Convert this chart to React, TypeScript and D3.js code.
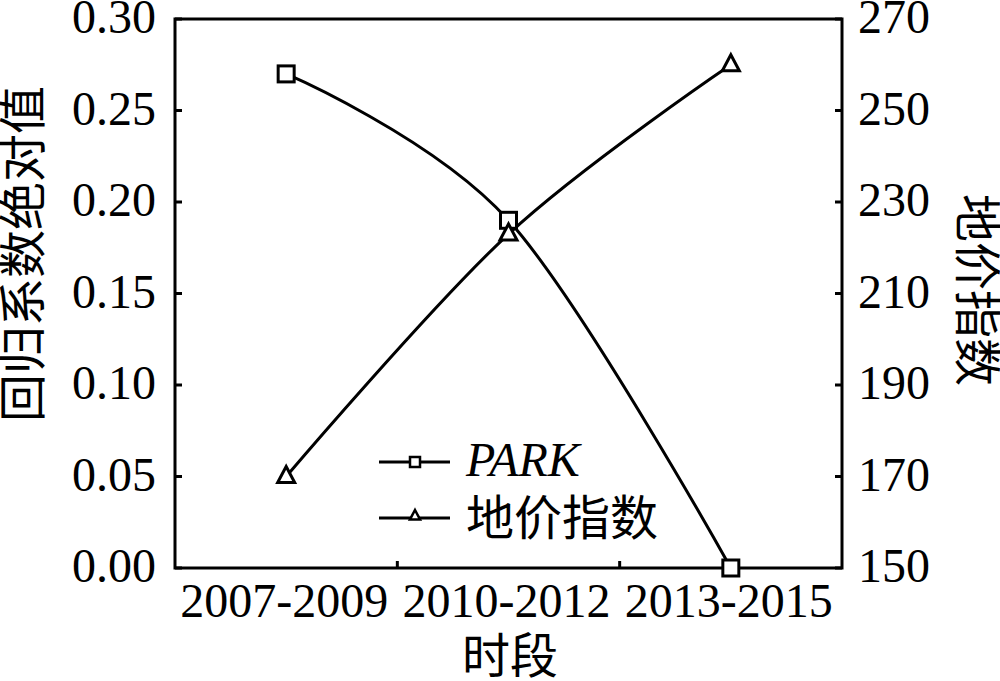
import React from "react";
import * as d3 from "d3";

const periods = ["2007-2009", "2010-2012", "2013-2015"];
const parkValues = [0.27, 0.19, 0.0];
const landIndex = [170, 223, 260];
const leftTicks = [0, 0.05, 0.1, 0.15, 0.2, 0.25, 0.3];
const rightTicks = [150, 170, 190, 210, 230, 250, 270];

const W = 1000, H = 681;
const L = 175, R = 842, T = 19, B = 568;
const FONT = "'Liberation Serif', 'Times New Roman', serif";
const CJK = "'Noto Sans CJK SC', sans-serif";
const FS = 48;

export default function App() {
  const x = d3.scaleBand().domain(periods).range([L, R]);
  const yL = d3.scaleLinear().domain([0, 0.3]).range([B, T]);
  const yR = d3.scaleLinear().domain([150, 270]).range([B, T]);
  const cx = (p: string) => (x(p) as number) + x.bandwidth() / 2;

  const parkLine = d3.line<number>().x((_, i) => cx(periods[i])).y((d) => yL(d)).curve(d3.curveCardinal.tension(0));
  const landLine = d3.line<number>().x((_, i) => cx(periods[i])).y((d) => yR(d)).curve(d3.curveCardinal.tension(0));

  const tri = (px: number, py: number, s: number) =>
    `M${px},${py - s}L${px + s * 0.85},${py + s * 0.6}L${px - s * 0.85},${py + s * 0.6}Z`;

  return (
    <svg width={W} height={H} style={{ position: "absolute", left: 0, top: 0, background: "#fff" }}>
      <rect x={0} y={0} width={W} height={H} fill="#fff" />
      {/* frame */}
      <rect x={L} y={T} width={R - L} height={B - T} fill="none" stroke="#000" strokeWidth={3} />
      {/* left ticks */}
      {leftTicks.map((t) => (
        <g key={"l" + t}>
          <line x1={L} x2={L + 7} y1={yL(t)} y2={yL(t)} stroke="#000" strokeWidth={3} />
          <text x={156} y={yL(t)} dy="0.3em" textAnchor="end" fontFamily={FONT} fontSize={FS}>
            {t.toFixed(2)}
          </text>
        </g>
      ))}
      {rightTicks.map((t) => (
        <g key={"r" + t}>
          <line x1={R - 7} x2={R} y1={yR(t)} y2={yR(t)} stroke="#000" strokeWidth={3} />
          <text x={858} y={yR(t)} dy="0.3em" textAnchor="start" fontFamily={FONT} fontSize={FS}>
            {t}
          </text>
        </g>
      ))}
      {/* x ticks between bands */}
      {periods.slice(1).map((p) => (
        <line key={"xt" + p} x1={x(p) as number} x2={x(p) as number} y1={B} y2={B - 7} stroke="#000" strokeWidth={3} />
      ))}
      {periods.map((p) => (
        <text key={"xl" + p} x={cx(p) - 2} y={617} textAnchor="middle" fontFamily={FONT} fontSize={FS}>
          {p}
        </text>
      ))}
      {/* axis titles */}
      <text x={510} y={673} textAnchor="middle" fontFamily={CJK} fontSize={FS}>时段</text>
      <text transform={`translate(40,254) rotate(-90)`} textAnchor="middle" fontFamily={CJK} fontSize={FS}>
        回归系数绝对值
      </text>
      <text transform={`translate(960,290) rotate(90)`} textAnchor="middle" fontFamily={CJK} fontSize={FS}>
        地价指数
      </text>
      {/* series */}
      <path d={parkLine(parkValues) || ""} fill="none" stroke="#000" strokeWidth={3} />
      <path d={landLine(landIndex) || ""} fill="none" stroke="#000" strokeWidth={3} />
      {parkValues.map((v, i) => (
        <rect key={"pm" + i} x={cx(periods[i]) - 8} y={yL(v) - 8} width={16} height={16} fill="#fff" stroke="#000" strokeWidth={3} />
      ))}
      {landIndex.map((v, i) => (
        <path key={"lm" + i} d={tri(cx(periods[i]), yR(v), 10)} fill="#fff" stroke="#000" strokeWidth={3} />
      ))}
      {/* legend */}
      <line x1={379} x2={450} y1={462} y2={462} stroke="#000" strokeWidth={3} />
      <rect x={410} y={457} width={10} height={10} fill="#fff" stroke="#000" strokeWidth={2.5} />
      <text x={466} y={476} fontFamily={FONT} fontStyle="italic" fontSize={FS}>PARK</text>
      <line x1={379} x2={450} y1={518} y2={518} stroke="#000" strokeWidth={3} />
      <path d={tri(415, 516, 6)} fill="#fff" stroke="#000" strokeWidth={2.5} />
      <text x={466} y={535} fontFamily={CJK} fontSize={FS}>地价指数</text>
    </svg>
  );
}
